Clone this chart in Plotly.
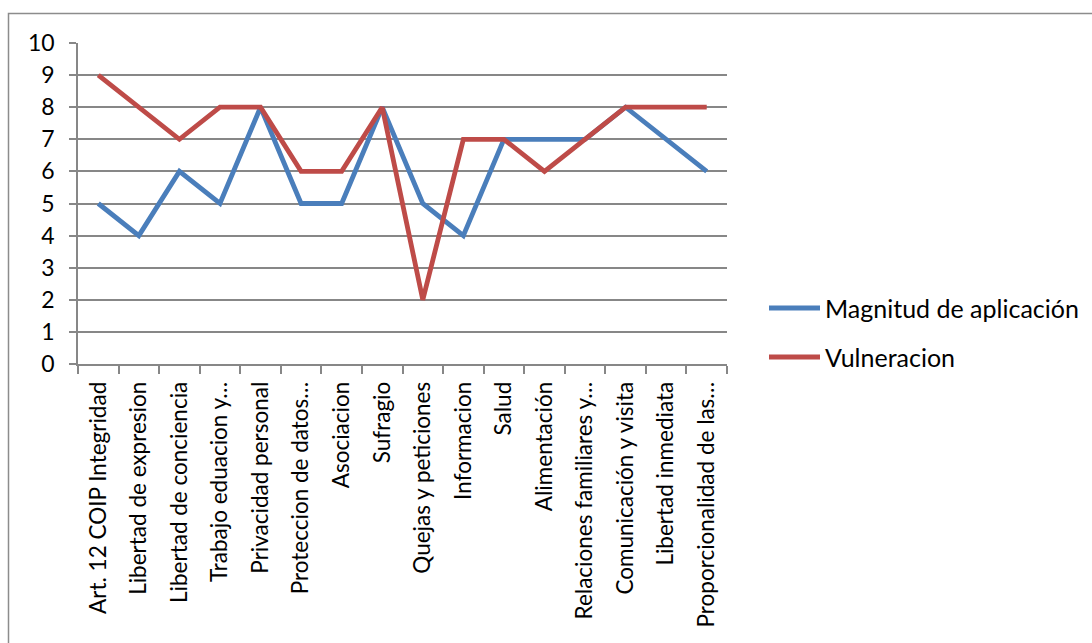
import plotly.graph_objects as go

# Categories (long names shortened with an ellipsis, as shown on the axis)
categorias = [
    "Art. 12 COIP Integridad",
    "Libertad de expresion",
    "Libertad de conciencia",
    "Trabajo eduacion y…",
    "Privacidad personal",
    "Proteccion de datos…",
    "Asociacion",
    "Sufragio",
    "Quejas y peticiones",
    "Informacion",
    "Salud",
    "Alimentación",
    "Relaciones familiares y…",
    "Comunicación y visita",
    "Libertad inmediata",
    "Proporcionalidad de las…",
]

magnitud = [5, 4, 6, 5, 8, 5, 5, 8, 5, 4, 7, 7, 7, 8, 7, 6]
vulneracion = [9, 8, 7, 8, 8, 6, 6, 8, 2, 7, 7, 6, 7, 8, 8, 8]

series_names = ["Magnitud de aplicación", "Vulneracion"]
series_colors = ["#4A7EBB", "#BE4B48"]
y_ticks = list(range(0, 11))

FONT = "Lato"
GRID = "#878787"

W, H = 1092, 643
ML, MR, MT, MB = 78, 365, 43, 279
pw, ph = W - ML - MR, H - MT - MB


def px_x(x):
    return (x - ML) / pw


def px_y(y):
    return (H - MB - y) / ph


fig = go.Figure()
for name, vals, color in zip(series_names, [magnitud, vulneracion], series_colors):
    fig.add_trace(go.Scatter(
        x=categorias, y=vals, mode="lines", name=name,
        line=dict(color=color, width=4.8),
        showlegend=False,
    ))

# Legend drawn at the right of the plot
shapes = []
annotations = []
for i, (name, color) in enumerate(zip(series_names, series_colors)):
    yy = px_y(308 + i * 49)
    shapes.append(dict(type="line", xref="paper", yref="paper",
                       x0=px_x(769), x1=px_x(820), y0=yy, y1=yy,
                       line=dict(color=color, width=4.8)))
    annotations.append(dict(xref="paper", yref="paper", x=px_x(823), y=yy,
                            text=name, showarrow=False, xanchor="left",
                            yanchor="middle",
                            font=dict(family=FONT, size=25, color="#000")))

# Chart area border
shapes.append(dict(type="rect", xref="paper", yref="paper",
                   x0=px_x(8.5), x1=px_x(1200), y0=px_y(800), y1=px_y(13.5),
                   line=dict(color="#8c8c8c", width=1.5), layer="below"))

fig.update_layout(
    width=W, height=H,
    margin=dict(l=ML, r=MR, t=MT, b=MB, autoexpand=False),
    paper_bgcolor="white", plot_bgcolor="white",
    font=dict(family=FONT, size=23, color="#000"),
    showlegend=False,
    shapes=shapes,
    annotations=annotations,
    xaxis=dict(
        type="category", tickangle=-90, tickson="boundaries",
        ticks="outside", ticklen=8, tickwidth=1.5, tickcolor=GRID,
        showline=True, linecolor=GRID, linewidth=1.5,
        showgrid=False, range=[-0.5, len(categorias) - 0.5],
        tickfont=dict(family=FONT, size=22.5, color="#000"),
        ticklabelstandoff=7, automargin=False,
    ),
    yaxis=dict(
        range=[0, 10], tickvals=y_ticks, ticks="outside", ticklen=7,
        tickwidth=1.5, tickcolor=GRID,
        showline=True, linecolor=GRID, linewidth=1.5,
        showgrid=True, gridcolor=GRID, gridwidth=1.5,
        zeroline=False,
        tickfont=dict(family=FONT, size=23, color="#000"),
        ticklabelstandoff=10, automargin=False,
    ),
)

fig.write_html("out.html")
